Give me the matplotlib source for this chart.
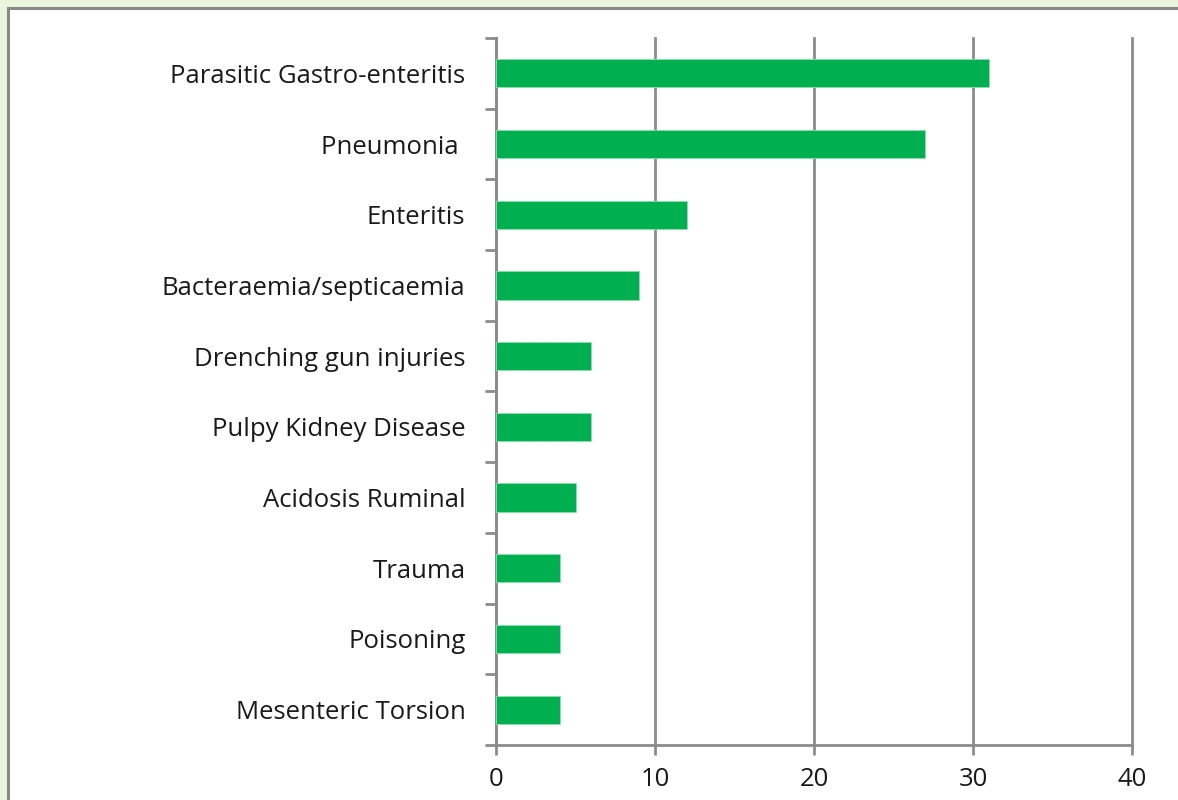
import matplotlib.pyplot as plt
from matplotlib.patches import Rectangle

causes = ["Parasitic Gastro-enteritis", "Pneumonia ", "Enteritis", "Bacteraemia/septicaemia",
          "Drenching gun injuries", "Pulpy Kidney Disease", "Acidosis Ruminal", "Trauma",
          "Poisoning", "Mesenteric Torsion"]
counts = [31, 27, 12, 9, 6, 6, 5, 4, 4, 4]
xticks = [0, 10, 20, 30, 40]

plt.rcParams['font.family'] = ['Open Sans', 'DejaVu Sans']
grey = "#8c8c8c"

fig = plt.figure(figsize=(11.78, 8), dpi=100)
fig.patch.set_facecolor("#eaf5dd")
# white panel with grey frame, running off the right and bottom edges
fig.patches.append(Rectangle((8 / 1178, -0.1), 1.2, 1 - 8 / 800 + 0.1, transform=fig.transFigure,
                             facecolor="white", edgecolor="#888888", linewidth=2.2, zorder=-5))

ax = fig.add_axes([496 / 1178, 55 / 800, (1132 - 496) / 1178, (745 - 38) / 800])
ax.set_facecolor("none")

pos = list(range(len(causes)))
ax.barh(pos, counts, height=0.4, color="#00b050", edgecolor="#8ee0a8", linewidth=0.6, zorder=3)

ax.set_xlim(0, 40)
ax.set_ylim(len(causes) - 0.5, -0.5)
ax.set_xticks(xticks)
ax.set_xticklabels([str(t) for t in xticks])
ax.xaxis.grid(True, color=grey, linewidth=2, zorder=1)
for gl in ax.get_xgridlines():
    gl.set_clip_on(False)

# boundary ticks on the y spine, labels at bar centres
ax.set_yticks([i - 0.5 for i in range(len(causes) + 1)])
ax.set_yticklabels([])
ax.set_yticks(pos, minor=True)
ax.set_yticklabels(causes, minor=True)

ax.tick_params(axis="y", which="major", length=8, width=2, color=grey, direction="out")
ax.tick_params(axis="y", which="minor", length=0, pad=22, labelsize=18.5, labelcolor="#1a1a1a")
ax.tick_params(axis="x", length=7, width=2, color=grey, direction="out", pad=9,
               labelsize=18.5, labelcolor="#1a1a1a")

for side in ["top", "right"]:
    ax.spines[side].set_visible(False)
for side in ["left", "bottom"]:
    ax.spines[side].set_color(grey)
    ax.spines[side].set_linewidth(2)

fig.savefig("out.png", dpi=100, facecolor=fig.get_facecolor())
